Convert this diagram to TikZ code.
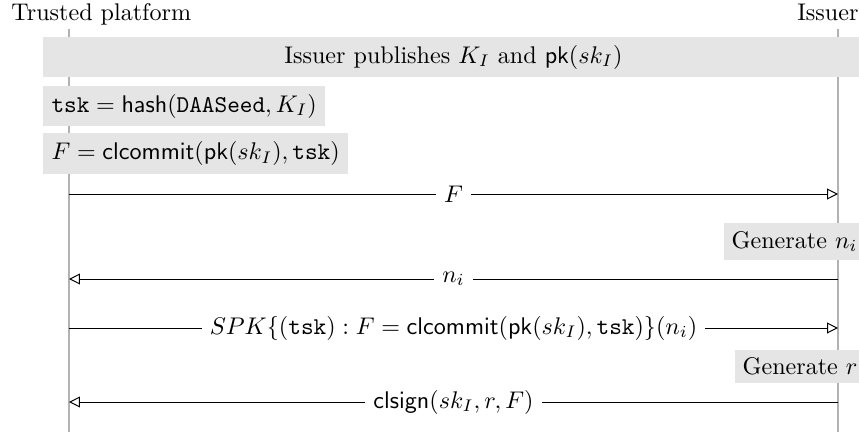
\documentclass[tikz,border=0pt]{standalone}
\usepackage{amsmath}
\usepackage{amssymb}
\usetikzlibrary{arrows.meta}
\tikzset{
  lifeline/.style={gray!60, line width=1.2pt},
  actbox/.style={fill=gray!20},
  msg/.style={-{Triangle[open,length=4.5pt,width=4.5pt]}},
  msglabel/.style={fill=white, midway}
}
\begin{document}
\begin{tikzpicture}[x=0.415pt, y=-0.415pt]
  \useasboundingbox (0,0) rectangle (859,436); \clip (0,0) rectangle (859,436);
  \node[anchor=base west, inner sep=0] (tpname) at (11,21) {Trusted platform};
  \node[anchor=base east, inner sep=0] (isname) at (859,21) {Issuer};
  \coordinate (TP0) at (69,29); \coordinate (TP1) at (69,432); \draw[lifeline] (TP0) -- (TP1);
  \coordinate (IS0) at (838,29); \coordinate (IS1) at (838,432); \draw[lifeline] (IS0) -- (IS1);
  \foreach \n/\y in {a/194, b/279, c/328, d/402} {
    \coordinate (TP\n) at (69,\y); \coordinate (IS\n) at (838,\y);
  }
  \node[actbox, minimum width=341pt] (publish) at (453.5,57) {Issuer publishes $K_I$ and $\mathsf{pk}(sk_I)$};
  \node[actbox, anchor=west] (tsk) at (43,106) {$\mathtt{tsk} = \mathsf{hash}(\mathtt{DAASeed}, K_I)$};
  \node[actbox, anchor=west] (commit) at (43,153.5) {$F = \mathsf{clcommit}(\mathsf{pk}(sk_I), \mathtt{tsk})$};
  \draw[msg] (TPa) -- node[msglabel] (msgF) {$F$} (ISa);
  \node[actbox, anchor=east] (genN) at (866,241.5) {Generate $n_i$};
  \draw[msg] (ISb) -- node[msglabel] (msgN) {$n_i$} (TPb);
  \draw[msg] (TPc) -- node[msglabel] (msgSPK) {$SPK\{(\mathtt{tsk}) : F = \mathsf{clcommit}(\mathsf{pk}(sk_I), \mathtt{tsk})\}(n_i)$} (ISc);
  \node[actbox, anchor=east] (genR) at (866,366.5) {Generate $r$};
  \draw[msg] (ISd) -- node[msglabel] (msgSig) {$\mathsf{clsign}(sk_I, r, F)$} (TPd);
\end{tikzpicture}
\end{document}
